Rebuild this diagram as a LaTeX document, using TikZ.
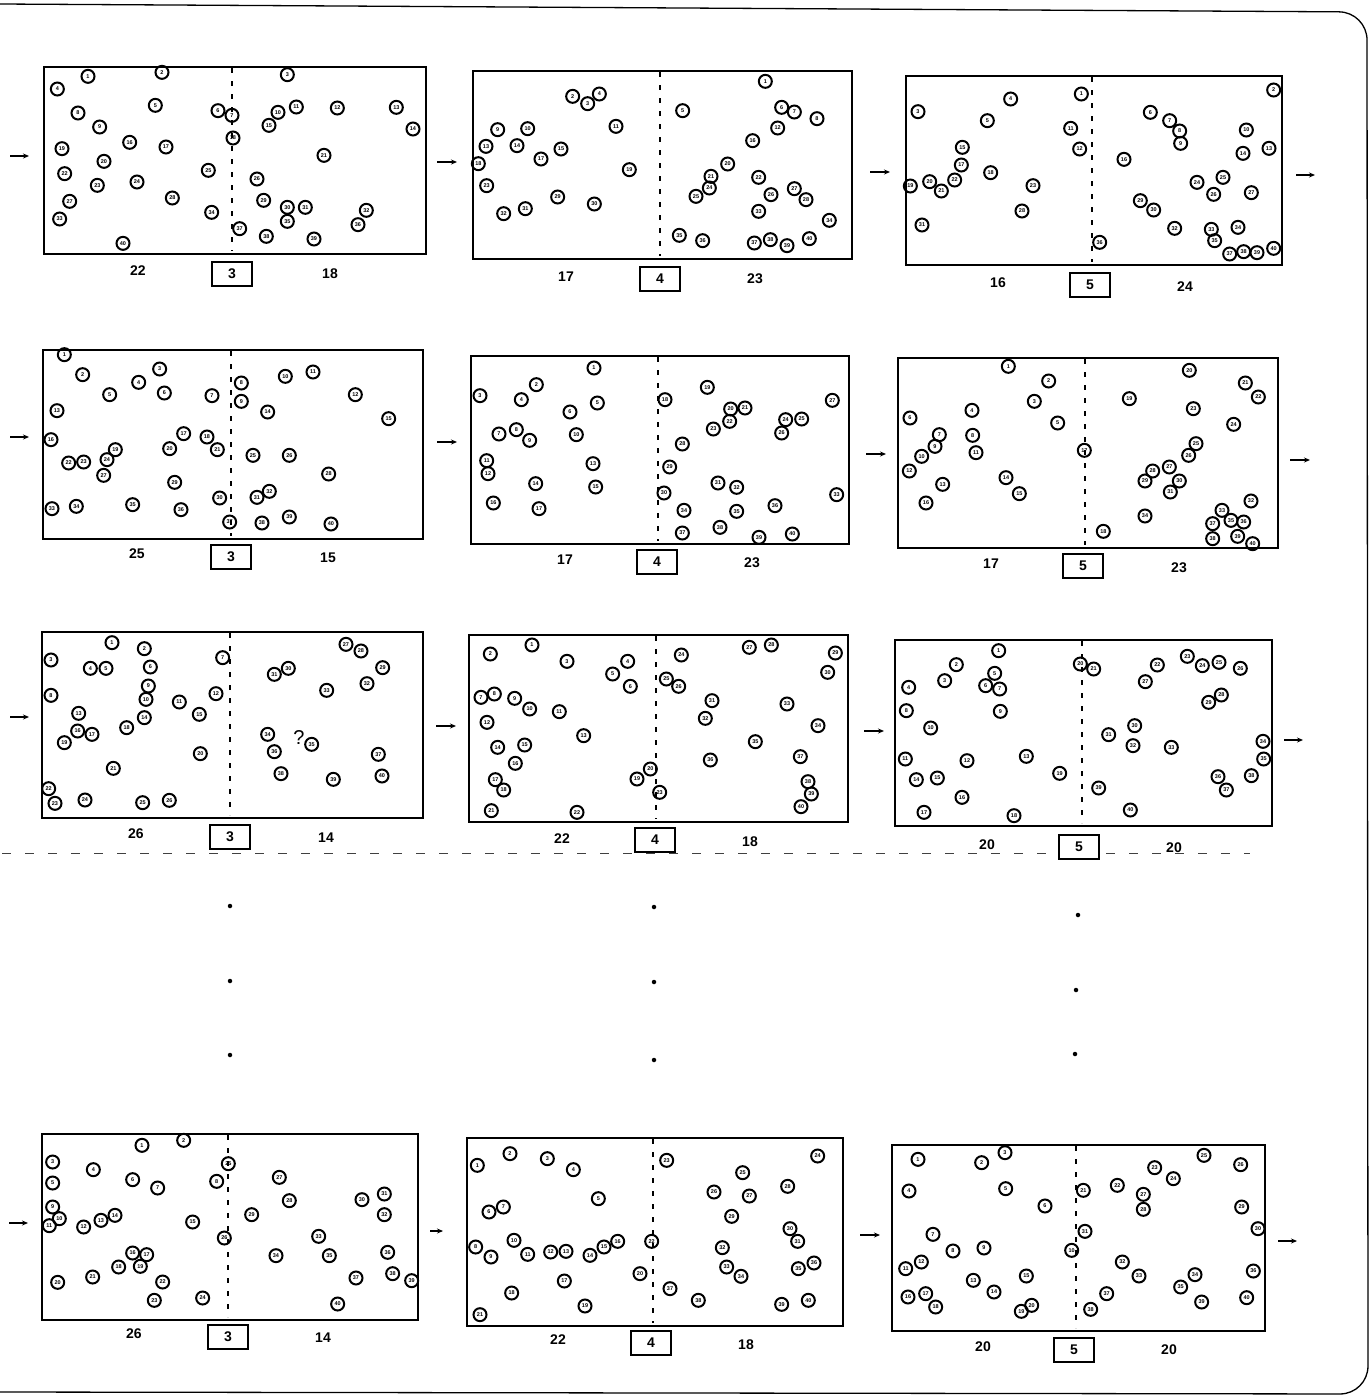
\documentclass[tikz,border=0pt]{standalone}
\usepackage{fontspec}
\setmainfont{Liberation Sans}
\usetikzlibrary{arrows.meta}
\tikzset{
  panelbox/.style={draw, line width=2.4pt, inner sep=0pt},
  divider/.style={line width=1.8pt, dash pattern=on 5pt off 8pt},
  ball/.style={circle, draw, line width=2pt, minimum size=13pt, inner sep=0pt, font=\fontsize{5.5}{5.5}\selectfont\bfseries},
  countlbl/.style={font=\fontsize{14}{14}\selectfont\bfseries, inner sep=0pt},
  numbox/.style={draw, fill=white, line width=2.2pt, minimum width=40pt, minimum height=24pt, inner sep=0pt, font=\fontsize{14}{14}\selectfont\bfseries},
  arr/.style={-{Stealth[length=6pt,width=5pt]}, line width=1.4pt},
  gapdot/.style={circle, fill, inner sep=0pt, minimum size=4.5pt},
}
\newcommand\Panel[6]{%
  \node[panelbox, anchor=north west, minimum width={(#4-#2)*1pt}, minimum height={(#5-#3)*1pt}] (#1) at (#2,#3) {};
  \draw[divider] (#6,#3+2) -- (#6,#5-2);
}
\newcommand\Balls[4]{%
  \begin{scope}[shift={(#2pt,-#3pt)}, x=0.33333pt, y=-0.33333pt]
    \foreach \cx/\cy [count=\n] in {#4} \node[ball] (#1-\n) at (\cx,\cy) {\n};
  \end{scope}
}
\begin{document}
\begin{tikzpicture}[x=1pt, y=-1pt]
\useasboundingbox (0,0) rectangle (1372,1398);
\fill[white] (0,0) rectangle (1372,1398);
% outer frame
\draw[line width=1.3pt, rounded corners=28pt] (0,4) -- (1367,12) -- (1368,1394) -- (0,1392);

% ---------- break line (behind labels) ----------
\draw[line width=1pt, black!75, dash pattern=on 9pt off 14pt] (2,853) -- (1250,853);

% ---------- panels ----------
\Panel{p1}{43}{66}{425}{253}{232}
\Panel{p2}{472}{70}{851}{258}{660}
\Panel{p3}{905}{75}{1281}{264}{1092}
\Panel{p4}{42}{349}{422}{538}{231}
\Panel{p5}{470}{355}{848}{543}{658}
\Panel{p6}{897}{357}{1277}{547}{1085}
\Panel{p7}{41}{631}{422}{817}{230}
\Panel{p8}{468}{634}{847}{821}{656}
\Panel{p9}{894}{639}{1271}{825}{1082}
\Panel{p10}{41}{1133}{417}{1319}{228}
\Panel{p11}{466}{1137}{842}{1325}{653}
\Panel{p12}{891}{1144}{1264}{1330}{1076}

% ---------- particles ----------
\Balls{b1}{38}{58}{150/55,372/43,748/50,58/93,352/142,540/158,582/172,120/165,185/207,720/163,775/147,898/150,1075/148,1125/213,693/202,275/253,384/267,585/240,72/272,198/310,858/292,80/347,178/382,297/372,511/337,657/363,95/430,403/420,677/427,748/448,802/448,985/457,65/483,521/463,748/490,960/500,605/512,685/535,828/543,255/556}
\Balls{b2}{466}{63}{898/55,320/100,365/122,400/93,650/143,947/133,985/147,1053/167,95/200,185/197,450/190,935/195,60/250,153/248,285/258,860/233,225/288,37/302,490/320,785/303,735/340,878/343,62/368,730/375,690/400,915/395,985/377,1020/410,275/402,385/423,178/437,113/452,878/445,1090/472,640/517,710/533,865/540,913/530,963/548,1030/527}
\Balls{b3}{898}{70}{550/72,1127/60,60/125,338/87,268/152,757/127,815/152,845/183,848/220,1045/180,518/175,545/237,1113/235,1035/250,193/232,678/268,190/285,278/308,37/348,95/335,130/363,170/330,405/347,897/337,975/322,947/373,1060/368,372/423,727/392,767/420,72/465,830/475,940/478,1020/472,950/512,605/517,995/552,1037/545,1077/548,1127/535}
\Balls{b4}{37}{343}{82/35,137/95,368/78,305/118,218/155,382/150,525/158,613/120,613/175,745/100,828/87,955/155,60/203,692/207,1055/227,42/290,440/272,510/282,235/320,398/317,541/320,95/360,140/357,210/350,648/337,757/337,200/397,875/393,413/418,548/465,660/463,697/445,45/497,118/490,287/485,432/500,578/537,675/540,757/522,882/543}
\Balls{b5}{464}{348}{390/60,217/110,48/143,172/155,400/165,318/192,105/258,157/245,197/277,337/260,68/338,72/377,387/347,215/407,395/417,88/465,225/482,603/155,730/118,800/183,843/180,797/220,748/243,965/215,1013/213,953/255,1105/157,655/288,617/357,600/435,762/405,818/418,1118/440,660/487,818/490,933/473,655/555,768/538,885/568,985/558}
\Balls{b6}{891}{352}{352/43,473/87,430/148,243/175,500/213,57/198,145/248,245/250,132/283,92/313,255/302,55/357,155/397,345/377,385/425,105/453,580/295,637/538,715/140,895/55,1063/93,1102/135,907/170,1028/217,915/275,893/310,835/345,785/357,762/387,865/387,838/420,1080/447,993/475,762/492,1020/505,1058/510,965/515,965/560,1040/553,1085/575}
\Balls{b7}{36}{626}{228/50,325/68,45/102,163/127,210/127,343/123,560/95,45/208,337/180,330/220,430/228,540/203,128/262,325/275,490/265,125/315,168/325,272/305,85/350,493/383,232/427,38/488,57/532,147/522,320/530,400/523,930/55,975/75,1040/125,757/127,715/145,993/173,872/193,695/325,827/355,715/377,1027/385,735/443,892/460,1038/450}
\Balls{b8}{462}{629}{210/48,85/75,315/97,497/97,452/135,505/172,57/205,97/195,158/208,203/240,292/248,75/280,365/320,107/355,188/348,160/403,100/452,125/483,525/450,565/420,88/545,345/550,593/490,658/78,613/150,650/172,862/55,928/48,1120/72,1097/130,750/215,730/268,975/225,1068/290,880/338,745/393,1015/383,1038/458,1048/495,1017/533}
\Balls{b9}{888}{634}{332/50,205/92,170/140,62/160,320/118,293/155,335/165,55/230,337/232,128/282,52/375,237/380,415/367,85/437,148/432,222/490,108/535,378/545,515/418,577/90,617/105,808/93,898/67,943/95,993/85,1057/103,772/143,1000/183,962/205,740/275,662/302,735/335,850/340,1125/322,1127/375,990/428,1015/468,1090/425,632/462,727/528}
\Balls{b10}{36}{1128}{318/52,443/37,50/102,172/125,50/165,290/155,365/180,542/160,50/237,70/272,40/293,143/297,195/277,237/262,470/282,290/375,332/380,248/417,313/415,65/463,170/447,380/462,355/517,500/510,577/107,565/330,730/148,760/218,647/260,978/215,1045/198,1045/260,848/325,720/383,880/383,1055/373,960/450,1070/437,1127/458,905/528}
\Balls{b11}{460}{1132}{52/100,150/65,262/80,340/113,415/200,87/240,130/225,47/345,93/375,162/325,203/367,272/360,318/358,390/370,432/345,473/328,313/447,155/483,375/522,540/425,60/548,575/328,620/85,1073/72,848/122,762/180,868/192,983/163,815/253,990/290,1013/328,787/347,800/405,843/433,1015/410,1062/393,630/470,715/505,965/517,1045/505}
\Balls{b12}{884}{1137}{102/67,293/77,363/47,75/162,365/155,483/207,147/292,207/342,300/333,563/340,65/395,112/375,268/430,330/465,427/417,72/480,125/470,155/510,412/523,443/505,598/160,700/145,812/92,868/125,960/55,1070/83,778/172,778/217,1073/210,1122/275,603/283,715/375,765/417,933/413,890/450,1108/402,668/470,620/517,953/495,1088/482}

\node (q7) at (299,738) {\fontsize{20}{20}\selectfont ?};

% ---------- labels ----------
\node[countlbl] (l1) at (138,271) {22};  \node[numbox] (n1) at (232,274) {3};  \node[countlbl] (r1) at (330,274) {18};
\node[countlbl] (l2) at (566,277) {17};  \node[numbox] (n2) at (660,279) {4};  \node[countlbl] (r2) at (755,279) {23};
\node[countlbl] (l3) at (998,283) {16};  \node[numbox] (n3) at (1090,285) {5}; \node[countlbl] (r3) at (1185,287) {24};
\node[countlbl] (l4) at (137,554) {25};  \node[numbox] (n4) at (231,557) {3};  \node[countlbl] (r4) at (328,558) {15};
\node[countlbl] (l5) at (565,560) {17};  \node[numbox] (n5) at (657,562) {4};  \node[countlbl] (r5) at (752,563) {23};
\node[countlbl] (l6) at (991,564) {17};  \node[numbox] (n6) at (1083,566) {5}; \node[countlbl] (r6) at (1179,568) {23};
\node[countlbl] (l7) at (136,834) {26};  \node[numbox] (n7) at (230,837) {3};  \node[countlbl] (r7) at (326,838) {14};
\node[countlbl] (l8) at (562,839) {22};  \node[numbox] (n8) at (655,840) {4};  \node[countlbl] (r8) at (750,842) {18};
\node[countlbl] (l9) at (987,845) {20};  \node[numbox] (n9) at (1079,847) {5}; \node[countlbl] (r9) at (1174,848) {20};
\node[countlbl] (l10) at (134,1334) {26}; \node[numbox] (n10) at (228,1337) {3}; \node[countlbl] (r10) at (323,1338) {14};
\node[countlbl] (l11) at (558,1340) {22}; \node[numbox] (n11) at (651,1343) {4}; \node[countlbl] (r11) at (746,1345) {18};
\node[countlbl] (l12) at (983,1347) {20}; \node[numbox] (n12) at (1074,1350) {5}; \node[countlbl] (r12) at (1169,1350) {20};

% ---------- arrows ----------
\coordinate (a1s) at (10,156);   \coordinate (a1e) at (29,156);
\coordinate (a2s) at (437,162);  \coordinate (a2e) at (457,162);
\coordinate (a3s) at (870,172);  \coordinate (a3e) at (890,172);
\coordinate (a4s) at (1296,175); \coordinate (a4e) at (1315,175);
\coordinate (a5s) at (10,437);   \coordinate (a5e) at (29,437);
\coordinate (a6s) at (437,442);  \coordinate (a6e) at (457,442);
\coordinate (a7s) at (866,454);  \coordinate (a7e) at (886,454);
\coordinate (a8s) at (1290,460); \coordinate (a8e) at (1310,460);
\coordinate (a9s) at (10,717);   \coordinate (a9e) at (29,717);
\coordinate (a10s) at (436,726); \coordinate (a10e) at (456,726);
\coordinate (a11s) at (864,731); \coordinate (a11e) at (884,731);
\coordinate (a12s) at (1284,740); \coordinate (a12e) at (1303,740);
\coordinate (a13s) at (9,1223);  \coordinate (a13e) at (28,1223);
\coordinate (a14s) at (430,1231); \coordinate (a14e) at (443,1231);
\coordinate (a15s) at (860,1235); \coordinate (a15e) at (880,1235);
\coordinate (a16s) at (1278,1241); \coordinate (a16e) at (1297,1241);
\foreach \i in {1,...,16} \draw[arr] (a\i s) -- (a\i e);

% ---------- continuation dots ----------
\node[gapdot] (d1) at (230,906) {};  \node[gapdot] (d2) at (230,981) {};  \node[gapdot] (d3) at (230,1055) {};
\node[gapdot] (d4) at (654,907) {};  \node[gapdot] (d5) at (654,982) {};  \node[gapdot] (d6) at (654,1060) {};
\node[gapdot] (d7) at (1078,915) {}; \node[gapdot] (d8) at (1076,990) {}; \node[gapdot] (d9) at (1075,1054) {};
\end{tikzpicture}
\end{document}
